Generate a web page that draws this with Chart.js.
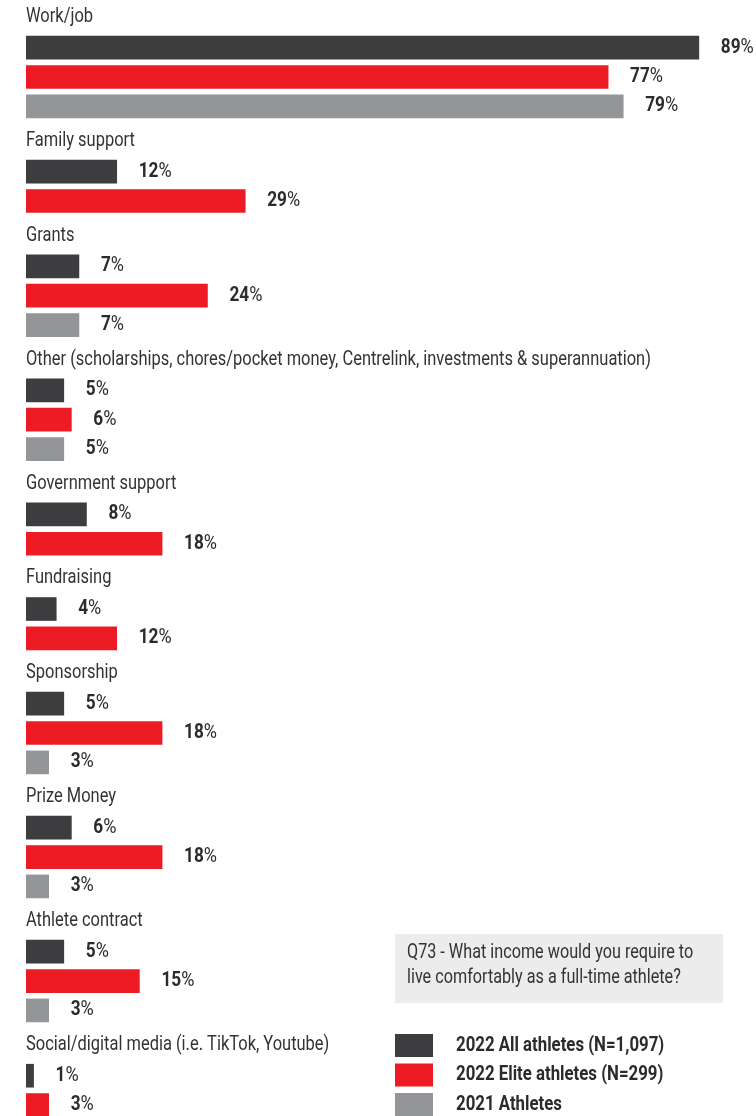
<!DOCTYPE html>
<html>
<head>
<meta charset="utf-8">
<script src="https://cdn.jsdelivr.net/npm/chart.js@4.4.1/dist/chart.umd.min.js"></script>
<style>
  html, body { margin: 0; padding: 0; background: #fff; }
</style>
</head>
<body>
<canvas id="incomeChart" width="756" height="1116"></canvas>
<script>
// sources of income
const categories = [
    'Work/job',
    'Family support',
    'Grants',
    'Other (scholarships, chores/pocket money, Centrelink, investments & superannuation)',
    'Government support',
    'Fundraising',
    'Sponsorship',
    'Prize Money',
    'Athlete contract',
    'Social/digital media (i.e. TikTok, Youtube)'
];
const seriesNames = ['2022 All athletes (N=1,097)', '2022 Elite athletes (N=299)', '2021 Athletes'];
const allAthletes2022 = [89, 12, 7, 5, 8, 4, 5, 6, 5, 1];
const eliteAthletes2022 = [77, 29, 24, 6, 18, 12, 18, 18, 15, 3];
const athletes2021 = [79, null, 7, 5, null, null, 3, 3, 3, null];
const noteLines = ['Q73 - What income would you require to', 'live comfortably as a full-time athlete?'];

const colors = ['#3d3d3f', '#ed1c24', '#939598'];
const FONT = 'Roboto, "Noto Sans", sans-serif';

// row layout: one unit per bar, slightly bigger gaps around the group titles
const HEAD_GAP = 1.044;
const GROUP_GAP = 1.18;
const ROW_PX = 29.36;

const allSeries = [allAthletes2022, eliteAthletes2022, athletes2021];
const headerPos = [];
const seriesData = [[], [], []];
let pos = 0;
categories.forEach((cat, i) => {
    headerPos.push(pos);
    let step = HEAD_GAP;
    allSeries.forEach((s, k) => {
        if (s[i] === null) return;
        pos += step;
        step = 1;
        seriesData[k].push({ x: s[i], y: pos });
    });
    pos += GROUP_GAP;
});

const yMin = -17 / ROW_PX;
const yMax = yMin + 1116 / ROW_PX;
const pxPerPct = 7.56;

// text squeezed horizontally for a condensed look
function drawText(ctx, text, x, y, font, squeeze) {
    ctx.font = font;
    ctx.save();
    ctx.translate(x, y);
    ctx.scale(squeeze, 1);
    ctx.fillText(text, 0, 0);
    ctx.restore();
    return ctx.measureText(text).width * squeeze;
}

// titles above each group, value labels, note box and legend
const labelPlugin = {
    id: 'labels',
    afterDatasetsDraw(chart) {
        const ctx = chart.ctx;
        const yScale = chart.scales.y;
        ctx.save();
        ctx.textBaseline = 'middle';
        ctx.textAlign = 'left';

        ctx.fillStyle = '#333';
        categories.forEach((cat, i) => {
            drawText(ctx, cat, chart.chartArea.left, yScale.getPixelForValue(headerPos[i]), '20px ' + FONT, 0.823);
        });

        ctx.fillStyle = '#2b2b2b';
        chart.data.datasets.forEach((ds, di) => {
            const meta = chart.getDatasetMeta(di);
            meta.data.forEach((bar, j) => {
                const x = bar.x + 22;
                const w = drawText(ctx, String(ds.data[j].x), x, bar.y, 'bold 20px ' + FONT, 0.86);
                drawText(ctx, '%', x + w, bar.y, '20px ' + FONT, 0.9);
            });
        });

        // question box
        ctx.fillStyle = '#ececec';
        ctx.fillRect(395, 934, 328, 69);
        ctx.fillStyle = '#333';
        noteLines.forEach((line, i) => {
            drawText(ctx, line, 407, 953 + i * 25, '20px ' + FONT, 0.81);
        });

        // legend
        chart.data.datasets.forEach((ds, di) => {
            const cy = 1045.5 + di * 29.5;
            ctx.fillStyle = ds.backgroundColor;
            ctx.fillRect(395, cy - 11.5, 38, 23);
            ctx.fillStyle = '#2b2b2b';
            drawText(ctx, ds.label, 456, cy, 'bold 20px ' + FONT, 0.84);
        });
        ctx.restore();
    }
};

const ctx = document.getElementById('incomeChart').getContext('2d');
new Chart(ctx, {
    type: 'bar',
    data: {
        datasets: seriesNames.map((name, k) => ({
            label: name,
            data: seriesData[k],
            backgroundColor: colors[k],
            barThickness: 23,
            grouped: false
        }))
    },
    options: {
        indexAxis: 'y',
        responsive: false,
        animation: false,
        layout: { padding: { left: 26, right: 0, top: 0, bottom: 0 } },
        scales: {
            x: { type: 'linear', min: 0, max: (756 - 26) / pxPerPct, display: false },
            y: { type: 'linear', min: yMin, max: yMax, reverse: true, offset: false, display: false }
        },
        plugins: {
            legend: { display: false },
            tooltip: { enabled: false }
        }
    },
    plugins: [labelPlugin]
});
</script>
</body>
</html>
